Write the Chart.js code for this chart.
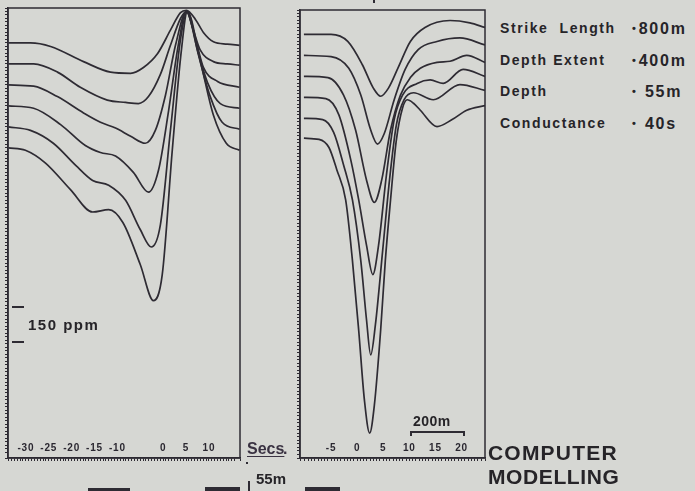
<!DOCTYPE html>
<html>
<head>
<meta charset="utf-8">
<script src="https://cdn.jsdelivr.net/npm/chart.js@4.4.1/dist/chart.umd.min.js"></script>
<style>
  body { margin: 0; background: #d6d7d3; }
  #page { position: relative; width: 695px; height: 491px; overflow: hidden; background: #d6d7d3;
          font-family: "Liberation Sans", Arial, sans-serif; font-weight: bold; color: #262428; }
  canvas { position: absolute; top: 0; }
  .t { position: absolute; white-space: nowrap; line-height: 1; }
  .mark { position: absolute; background: #2e2b33; }
  .leg { font-size: 14px; letter-spacing: 1.6px; }
  .val { font-size: 16px; letter-spacing: 1.8px; }
  .dot { font-size: 11px; position: relative; top: -2px; margin-right: 1px; }
</style>
</head>
<body>
<div id="page">
  <canvas id="leftChart" width="250" height="491" style="left:0"></canvas>
  <canvas id="rightChart" width="200" height="491" style="left:290px"></canvas>

  <div class="t leg" style="left:500px;top:21px">Strike&nbsp; Length</div>
  <div class="t leg" style="left:500px;top:53px">Depth Extent</div>
  <div class="t leg" style="left:500px;top:84px">Depth</div>
  <div class="t leg" style="left:500px;top:116px">Conductance</div>
  <div class="t val" style="left:632px;top:21px"><span class="dot">•</span>800m</div>
  <div class="t val" style="left:632px;top:53px"><span class="dot">•</span>400m</div>
  <div class="t val" style="left:632px;top:84px"><span class="dot">•</span> 55m</div>
  <div class="t val" style="left:632px;top:116px"><span class="dot">•</span> 40s</div>

  <div class="t" style="left:28px;top:317px;font-size:15px;letter-spacing:1.5px">150 ppm</div>
  <div class="mark" style="left:12px;top:306px;width:12px;height:1.5px"></div>
  <div class="mark" style="left:12px;top:341px;width:12px;height:1.5px"></div>

  <div class="t" style="left:413px;top:414px;font-size:14px;letter-spacing:0.5px">200m</div>
  <div class="mark" style="left:410px;top:431px;width:54px;height:1.5px"></div>
  <div class="mark" style="left:410px;top:431px;width:1.5px;height:5px"></div>
  <div class="mark" style="left:463px;top:431px;width:1.5px;height:5px"></div>

  <div class="t" style="left:247px;top:441px;font-size:16px;color:#3a3242;text-decoration:underline;text-underline-offset:2px">Secs</div>
  <div class="t" style="left:283px;top:441px;font-size:16px;color:#3a3242">.</div>
  <div class="mark" style="left:246px;top:462px;width:2px;height:2px"></div>
  <div class="t" style="left:256px;top:471px;font-size:15px">55m</div>
  <div class="mark" style="left:248px;top:481px;width:1.5px;height:10px"></div>

  <div class="t" style="left:488px;top:442px;font-size:21px;letter-spacing:1.2px">COMPUTER</div>
  <div class="t" style="left:488px;top:466px;font-size:21px;letter-spacing:0.6px">MODELLING</div>

  <div class="mark" style="left:88px;top:488px;width:42px;height:3px"></div>
  <div class="mark" style="left:205px;top:487px;width:35px;height:4px"></div>
  <div class="mark" style="left:305px;top:487px;width:35px;height:4px"></div>
  <div class="mark" style="left:373px;top:0px;width:1.5px;height:3px"></div>
</div>

<script>
// time in secs, response in ppm (0 = top of each frame)
const leftSecsLabels = [-30, -25, -20, -15, -10, 0, 5, 10];
const rightSecsLabels = [-5, 0, 5, 10, 15, 20];

const leftCurve1 = [[-33.8, -150], [-29.0, -150], [-24.6, -165], [-17.4, -230], [-11.5, -275], [-7.1, -280], [-4.3, -255], [-1.2, -195], [1.6, -95], [3.8, -20], [5.1, -10], [7.1, -50], [8.8, -105], [11.0, -145], [14.0, -155], [16.7, -160]];
const leftCurve2 = [[-33.8, -240], [-28.3, -240], [-23.1, -275], [-18.1, -340], [-12.2, -395], [-8.2, -405], [-5.4, -410], [-3.2, -380], [-0.6, -285], [1.6, -160], [3.8, -45], [5.1, -15], [6.6, -95], [8.1, -180], [11.0, -230], [14.0, -240], [16.7, -245]];
const leftCurve3 = [[-33.8, -330], [-28.3, -335], [-23.1, -380], [-17.4, -450], [-13.7, -490], [-10.4, -515], [-7.1, -550], [-3.9, -580], [-1.7, -525], [0.5, -375], [2.7, -160], [5.1, -15], [7.1, -135], [8.8, -255], [11.9, -315], [16.7, -340]];
const leftCurve4 = [[-33.8, -420], [-28.3, -430], [-22.4, -500], [-17.0, -590], [-13.7, -620], [-10.4, -635], [-6.5, -705], [-3.2, -790], [-1.0, -695], [1.2, -440], [3.3, -160], [5.1, -15], [7.5, -180], [9.7, -320], [12.5, -410], [16.7, -430]];
const leftCurve5 = [[-33.8, -510], [-29.0, -525], [-24.0, -580], [-19.1, -675], [-15.4, -740], [-11.9, -760], [-8.2, -825], [-5.0, -950], [-2.6, -1025], [-0.6, -930], [1.6, -525], [3.8, -135], [5.3, -15], [7.7, -200], [10.3, -380], [12.9, -490], [16.7, -520]];
const leftCurve6 = [[-33.8, -600], [-30.1, -610], [-25.7, -665], [-20.2, -780], [-15.4, -875], [-11.9, -865], [-8.8, -920], [-5.0, -1100], [-2.1, -1255], [-0.2, -1145], [2.0, -610], [4.0, -180], [5.3, -15], [8.1, -225], [11.0, -460], [13.8, -580], [16.7, -610]];

const rightCurve1 = [[-10.2, -105], [-5.0, -105], [-1.8, -135], [1.0, -235], [3.1, -335], [4.5, -370], [6.0, -335], [7.9, -245], [10.2, -135], [13.0, -75], [17.8, -45], [21.6, -55], [24.5, -75]];
const rightCurve2 = [[-10.2, -195], [-5.0, -200], [-1.6, -250], [0.7, -365], [2.6, -515], [3.9, -575], [5.2, -530], [7.1, -385], [9.2, -255], [11.7, -170], [15.3, -135], [19.7, -120], [24.5, -150]];
const rightCurve3 = [[-10.2, -285], [-5.6, -290], [-2.6, -365], [-0.3, -515], [1.8, -730], [3.3, -825], [4.7, -730], [6.4, -515], [8.3, -365], [10.2, -290], [12.1, -250], [15.3, -225], [17.8, -220], [21.0, -195], [24.5, -225]];
const rightCurve4 = [[-10.2, -375], [-6.0, -380], [-3.5, -450], [-1.2, -645], [0.3, -815], [1.8, -1010], [3.0, -1135], [4.1, -1010], [5.6, -710], [7.1, -470], [8.7, -365], [11.5, -315], [14.0, -300], [16.5, -315], [20.3, -255], [24.5, -285]];
const rightCurve5 = [[-10.2, -465], [-6.6, -470], [-4.5, -525], [-2.6, -665], [-0.9, -815], [0.7, -1075], [1.8, -1330], [2.6, -1480], [3.5, -1350], [4.9, -1030], [6.2, -730], [7.5, -495], [9.0, -385], [10.8, -355], [14.6, -385], [19.7, -320], [24.5, -345]];
const rightCurve6 = [[-10.2, -550], [-7.3, -555], [-5.4, -590], [-3.9, -685], [-2.2, -815], [-0.9, -1075], [0.3, -1375], [1.4, -1675], [2.4, -1815], [3.3, -1695], [4.5, -1375], [5.4, -1075], [6.4, -815], [7.5, -560], [8.7, -420], [9.6, -385], [10.8, -400], [12.1, -430], [15.3, -500], [18.2, -470], [21.0, -430], [24.5, -410]];

const leftCurves = [leftCurve1, leftCurve2, leftCurve3, leftCurve4, leftCurve5, leftCurve6];
const rightCurves = [rightCurve1, rightCurve2, rightCurve3, rightCurve4, rightCurve5, rightCurve6];

const ink = "#2e2b33";

// box round the plot area
const frame = {
    id: "frame",
    beforeDatasetsDraw(chart) {
        const { ctx, chartArea: a } = chart;
        ctx.save();
        ctx.strokeStyle = ink;
        ctx.lineWidth = 1.5;
        ctx.strokeRect(a.left, a.top, a.right - a.left, a.bottom - a.top);
        ctx.restore();
    }
};

// secs labels sit inside the frame, just above the bottom edge
const insideTicks = {
    id: "insideTicks",
    afterDraw(chart, args, opts) {
        const { ctx, chartArea: a, scales: { x } } = chart;
        ctx.save();
        ctx.fillStyle = "#2a2730";
        ctx.font = "bold 10px 'Liberation Sans'";
        ctx.letterSpacing = "0.8px";
        ctx.textAlign = "center";
        ctx.textBaseline = "middle";
        opts.labels.forEach(v => ctx.fillText(String(v), x.getPixelForValue(v), a.bottom - 10));
        ctx.restore();
    }
};

function toDatasets(curves) {
    return curves.map(c => ({
        data: c.map(([x, y]) => ({ x, y })),
        borderColor: ink,
        borderWidth: 1.7,
        pointRadius: 0,
        fill: false,
        cubicInterpolationMode: "monotone"
    }));
}

function panelOptions(xMin, xMax, yMin, labels, pad) {
    return {
        responsive: false,
        animation: false,
        layout: { padding: pad },
        plugins: {
            legend: { display: false },
            tooltip: { enabled: false },
            insideTicks: { labels: labels }
        },
        scales: {
            x: {
                type: "linear",
                min: xMin,
                max: xMax,
                afterFit(scale) { scale.height = 3; },
                grid: { drawOnChartArea: false, tickLength: 3, color: ink, lineWidth: 1 },
                border: { color: ink, width: 1.5 },
                ticks: { display: false, stepSize: 0.625 }
            },
            y: {
                min: yMin,
                max: 0,
                afterFit(scale) { scale.width = 3; },
                grid: { drawOnChartArea: false, tickLength: 3, color: ink, lineWidth: 1 },
                border: { color: ink, width: 1.5 },
                ticks: { display: false, stepSize: 15 }
            }
        }
    };
}

const ctx1 = document.getElementById("leftChart").getContext("2d");

new Chart(ctx1, {
    type: "line",
    data: { datasets: toDatasets(leftCurves) },
    options: panelOptions(-33.9, 16.8, -1930, leftSecsLabels, { left: 5, top: 8, right: 10, bottom: 30 }),
    plugins: [frame, insideTicks]
});

const ctx2 = document.getElementById("rightChart").getContext("2d");

new Chart(ctx2, {
    type: "line",
    data: { datasets: toDatasets(rightCurves) },
    options: panelOptions(-10.95, 24.5, -1922, rightSecsLabels, { left: 7, top: 10, right: 5, bottom: 30 }),
    plugins: [frame, insideTicks]
});
</script>
</body>
</html>
